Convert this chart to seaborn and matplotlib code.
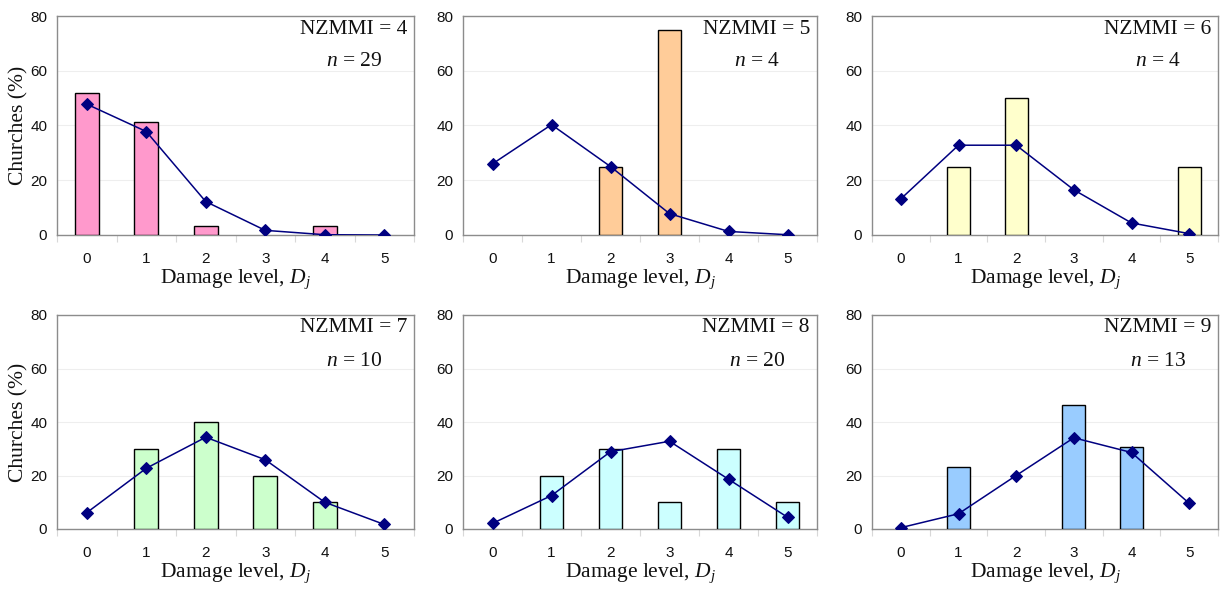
import numpy as np
import pandas as pd
import matplotlib
matplotlib.use("Agg")
import matplotlib.pyplot as plt
import matplotlib.transforms as mtransforms
from matplotlib.ticker import FixedLocator, NullFormatter
import seaborn as sns

sns.set_theme(style="white")
plt.rcParams["font.family"] = ["Liberation Sans", "DejaVu Sans"]
plt.rcParams["mathtext.fontset"] = "custom"
plt.rcParams["mathtext.rm"] = "Liberation Serif"
plt.rcParams["mathtext.it"] = "Liberation Serif:italic"

# Damage levels and intensity groups
damage_levels = [0, 1, 2, 3, 4, 5]
intensities = [4, 5, 6, 7, 8, 9]
sample_sizes = [29, 4, 4, 10, 20, 13]

# Observed share of churches per damage level (%)
observed_mmi4 = [51.7, 41.4, 3.4, 0.0, 3.4, 0.0]
observed_mmi5 = [0.0, 0.0, 25.0, 75.0, 0.0, 0.0]
observed_mmi6 = [0.0, 25.0, 50.0, 0.0, 0.0, 25.0]
observed_mmi7 = [0.0, 30.0, 40.0, 20.0, 10.0, 0.0]
observed_mmi8 = [0.0, 20.0, 30.0, 10.0, 30.0, 10.0]
observed_mmi9 = [0.0, 23.1, 0.0, 46.2, 30.8, 0.0]

# Fitted (binomial) distribution per damage level (%)
fitted_mmi4 = [47.8, 37.8, 12.2, 1.7, 0.1, 0.0]
fitted_mmi5 = [26.0, 40.3, 25.0, 7.8, 1.3, 0.1]
fitted_mmi6 = [13.2, 32.8, 32.8, 16.5, 4.4, 0.5]
fitted_mmi7 = [6.1, 22.7, 34.3, 25.9, 10.0, 1.7]
fitted_mmi8 = [2.1, 12.5, 28.9, 32.8, 18.6, 4.4]
fitted_mmi9 = [0.5, 5.7, 20.0, 34.1, 28.6, 9.6]

observed = [observed_mmi4, observed_mmi5, observed_mmi6,
            observed_mmi7, observed_mmi8, observed_mmi9]
fitted = [fitted_mmi4, fitted_mmi5, fitted_mmi6,
          fitted_mmi7, fitted_mmi8, fitted_mmi9]
bar_colors = ["#FF99CC", "#FFCC99", "#FFFFCC", "#CCFFCC", "#CCFFFF", "#99CCFF"]

W, H = 1225, 597
fig = plt.figure(figsize=(W / 100, H / 100), dpi=100)

# panel boxes in pixels: (left, top, right, bottom)
cols = [(57, 414), (463, 817), (872, 1218)]
rows = [(16, 235), (315, 529)]

serif = ["Liberation Serif", "DejaVu Serif"]
label_shift = mtransforms.ScaledTranslation(3 / 100, 0, fig.dpi_scale_trans)

for i in range(6):
    r, c = divmod(i, 3)
    l, rr = cols[c]
    t, b = rows[r]
    ax = fig.add_axes([l / W, 1 - b / H, (rr - l) / W, (b - t) / H])

    df = pd.DataFrame({"level": damage_levels,
                       "observed": observed[i],
                       "fitted": fitted[i]})
    bars = df[df["observed"] > 0]
    sns.barplot(data=bars, x="level", y="observed", native_scale=True,
                width=0.4, color=bar_colors[i], saturation=1,
                edgecolor="black", linewidth=1.0, ax=ax, zorder=3)
    sns.lineplot(data=df, x="level", y="fitted", color="#000080",
                 marker="D", markersize=6.5, markeredgecolor="#000080",
                 linewidth=1.1, ax=ax, zorder=4)

    ax.set_xlim(-0.5, 5.5)
    ax.set_ylim(0, 80)
    ax.set_yticks([0, 20, 40, 60, 80])
    ax.xaxis.set_major_locator(FixedLocator(damage_levels))
    ax.set_xticklabels([str(d) for d in damage_levels])
    for lab in ax.get_xticklabels():
        lab.set_transform(lab.get_transform() + label_shift)
    ax.xaxis.set_minor_locator(FixedLocator(np.arange(-0.5, 6.0, 1.0)))
    ax.xaxis.set_minor_formatter(NullFormatter())
    ax.tick_params(axis="x", which="major", length=0, pad=12,
                   labelsize=11, labelcolor="#111111")
    ax.tick_params(axis="x", which="minor", length=5, width=0.8,
                   color="#d8d8d8", direction="out", bottom=True)
    ax.tick_params(axis="y", which="major", length=0, pad=7,
                   labelsize=11, labelcolor="#111111", left=True)
    ax.yaxis.grid(True, color="#eeeeee", linewidth=0.8, zorder=0)
    ax.xaxis.grid(False)
    ax.set_axisbelow(True)
    for s in ax.spines.values():
        s.set_visible(True)
        s.set_color("#8c8c8c")
        s.set_linewidth(1.0)

    ax.set_xlabel("Damage level, $D_j$", family=serif, fontsize=15.5,
                  labelpad=1, color="#111111")
    if c == 0:
        ax.set_ylabel("Churches (%)", family=serif, fontsize=15.5,
                      labelpad=1, color="#111111")
    else:
        ax.set_ylabel("")

    ax.text(1 - 7 / (rr - l), 1 - 13 / (b - t), f"NZMMI = {intensities[i]}",
            transform=ax.transAxes, ha="right", va="center",
            family=serif, fontsize=15.5, color="#111111")
    ax.text(1 - 60 / (rr - l), 1 - 46 / (b - t), f"$n$ = {sample_sizes[i]}",
            transform=ax.transAxes, ha="center", va="center",
            family=serif, fontsize=15.5, color="#111111")

fig.savefig("out.png", dpi=100, facecolor="white")
